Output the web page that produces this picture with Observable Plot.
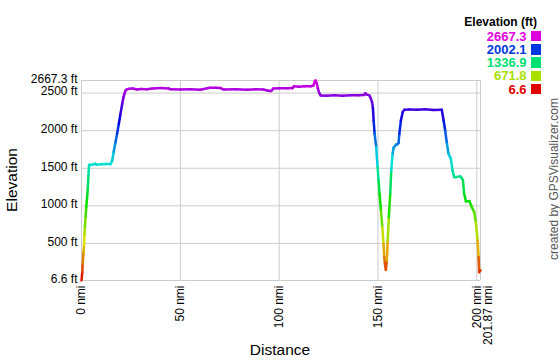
<!DOCTYPE html>
<html><head><meta charset="utf-8">
<script src="https://cdn.jsdelivr.net/npm/d3@7"></script>
<script src="https://cdn.jsdelivr.net/npm/@observablehq/plot@0.6"></script>
<style>
body{margin:0;background:#fff;font-family:"Liberation Sans",Arial,sans-serif;}
#wrap{position:relative;width:560px;height:360px;overflow:hidden;}
#wrap svg{position:absolute;left:0;top:0;}
.ov{position:absolute;white-space:nowrap;}
#ltitle{right:23px;top:15px;font-weight:bold;font-size:12px;line-height:14px;color:#000;}
.lrow{position:absolute;right:19px;height:13px;line-height:13px;display:flex;align-items:center;justify-content:flex-end;font-weight:bold;font-size:13px;}
.lrow span{line-height:13px;}
.lrow span.sw{display:inline-block;width:10.5px;height:10.5px;margin-left:4px;}
#ytitle{left:12px;top:180px;font-size:15.5px;line-height:16px;transform:translate(-50%,-50%) rotate(-90deg);color:#000;}
#xtitle{left:280px;top:350px;font-size:15.5px;line-height:16px;transform:translate(-50%,-50%);color:#000;}
#credit{left:554px;top:179px;font-size:12px;line-height:13px;color:#555;transform:translate(-50%,-50%) rotate(-90deg);}
</style></head><body><div id="wrap"></div>
<script>
const distance = [0,0.4,0.6,1.0,1.3,1.5,1.7,2.1,2.4,2.8,3.2,3.5,3.8,4.0,5.5,7.0,7.5,10,12,14.7,15.5,16.3,17.2,18.0,18.9,19.7,20.6,21.2,21.7,22.2,22.8,24,26,28,30,33,36,40,44,45,50,55,60,65,68,70.3,72,78,84,88,92,94.5,96,97,100,104,106.7,107.5,110,113,116,117.3,118.0,118.4,119.0,119.6,120.3,121.0,124,128,132,136,140,143,143.6,144.3,145.6,146.2,147.0,147.45,147.8,148.3,149.1,149.8,150.3,150.8,151.5,152.2,152.8,153.2,153.5,154.0,154.5,154.9,155.5,156.2,156.7,157.4,157.9,159.0,159.6,160.4,160.8,161.6,162.5,163.3,166,170,174,178,182.3,183.2,184.0,184.9,185.7,186.9,187.7,188.6,190,191.6,192.4,193.0,193.6,194.5,196.3,197.5,198.7,199.5,200.4,200.9,201.2,201.5,201.87];
const elevation = [6.6,120,230,380,480,620,720,860,980,1100,1230,1400,1530,1545,1548,1560,1548,1552,1556,1555,1600,1720,1846,1960,2091,2220,2357,2440,2490,2530,2548,2556,2560,2548,2555,2552,2562,2566,2560,2552,2548,2550,2545,2570,2572,2566,2548,2550,2545,2552,2548,2530,2528,2560,2565,2565,2566,2590,2585,2592,2590,2600,2650,2667.3,2630,2560,2500,2468,2465,2470,2466,2472,2470,2476,2498,2480,2470,2440,2380,2300,2135,1958,1780,1514,1337,1160,938,716,494,320,230,148,273,539,849,1160,1470,1692,1772,1810,1816,1834,1958,2135,2246,2277,2282,2278,2285,2276,2277,2135,2002,1825,1692,1625,1470,1381,1385,1392,1370,1337,1160,1062,1062,982,916,783,539,317,118,140,140];
const xTicks = [0,50,100,150,200];
const xEnd = 201.87;
const yTicks = [6.6,500,1000,1500,2000,2500,2667.3];
const legendValues = [2667.3,2002.1,1336.9,671.8,6.6];
const legendLabels = ["2667.3","2002.1","1336.9","671.8","6.6"];

const segs = d3.pairs(d3.range(distance.length)).map(([i,j]) => ({
  x1: distance[i], y1: elevation[i], x2: distance[j], y2: elevation[j],
  e: (elevation[i] + elevation[j]) / 2
}));
const hue = t => d3.hsl(300 * t, 1, 0.44).formatHex();
const tickText = {fill: "#000", fontSize: 12};

const plot = Plot.plot({
  width: 560, height: 360,
  marginLeft: 81, marginRight: 80, marginTop: 80, marginBottom: 80,
  x: {domain: [0, xEnd], axis: null},
  y: {domain: [6.6, 2667.3], axis: null},
  color: {type: "linear", domain: [6.6, 2667.3], interpolate: hue},
  style: {fontFamily: "Liberation Sans, Arial, sans-serif", fontSize: "12px", background: "transparent"},
  marks: [
    Plot.ruleX([...xTicks, xEnd], {stroke: "#ccc", strokeWidth: 1}),
    Plot.ruleY(yTicks, {stroke: "#ccc", strokeWidth: 1}),
    Plot.link(segs, {x1: "x1", y1: "y1", x2: "x2", y2: "y2", stroke: "e", strokeWidth: 2.5, strokeLinecap: "round"}),
    Plot.text(yTicks, {y: d => d, frameAnchor: "left", dx: -4, dy: -1.5, textAnchor: "end", text: d => `${d} ft`, ...tickText}),
    Plot.text(xTicks, {x: d => d, frameAnchor: "bottom", dy: 5, rotate: -90, textAnchor: "end", lineAnchor: "middle", text: d => `${d} nmi`, ...tickText}),
    Plot.text([xEnd], {x: d => d, frameAnchor: "bottom", dx: 8, dy: 5, rotate: -90, textAnchor: "end", lineAnchor: "middle", text: d => `${d} nmi`, ...tickText})
  ]
});
const wrap = document.getElementById("wrap");
wrap.appendChild(plot);

let colorOf;
try { const s = plot.scale("color"); colorOf = v => s.apply(v); colorOf(6.6); }
catch (e) { colorOf = v => hue((v - 6.6) / (2667.3 - 6.6)); }

function addDiv(id, cls, text) {
  const d = document.createElement("div");
  if (id) d.id = id;
  d.className = cls;
  d.textContent = text;
  wrap.appendChild(d);
  return d;
}
addDiv("ltitle", "ov", "Elevation (ft)");
legendValues.forEach((v, i) => {
  const row = document.createElement("div");
  row.className = "lrow";
  row.style.top = (29.5 + 13.3 * i) + "px";
  const t = document.createElement("span");
  t.textContent = legendLabels[i];
  t.style.color = colorOf(v);
  const sw = document.createElement("span");
  sw.className = "sw";
  sw.style.background = colorOf(v);
  row.appendChild(t); row.appendChild(sw);
  wrap.appendChild(row);
});
addDiv("ytitle", "ov", "Elevation");
addDiv("xtitle", "ov", "Distance");
addDiv("credit", "ov", "created by GPSVisualizer.com");
</script></body></html>
